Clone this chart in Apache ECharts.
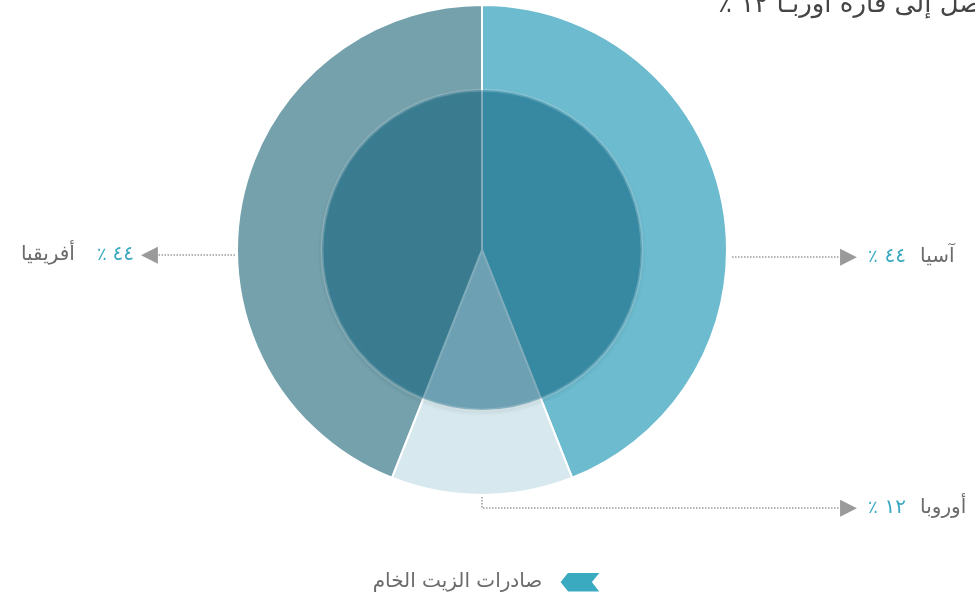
<!DOCTYPE html>
<html>
<head>
<meta charset="utf-8">
<script src="https://cdn.jsdelivr.net/npm/echarts@6/dist/echarts.min.js"></script>
<style>
  html,body{margin:0;padding:0;background:#fff;}
  #main{width:975px;height:592px;}
</style>
</head>
<body>
<div id="main"></div>
<script>
// صادرات الزيت الخام حسب القارة
var regions = ['آسيا', 'أوروبا', 'أفريقيا'];
var shares = [44, 12, 44];
var shareLabels = ['٤٤', '١٢', '٤٤'];
var sliceColors = ['#6dbbcf', '#d7e9ee', '#74a1ac'];
var seriesName = 'صادرات الزيت الخام';
var titleText = 'نسبة الصادرات التي تصل إلى قارة أوربـا ١٢ ٪';

var CX = 482, CY = 250, R = 245, R_IN = 160;
var GRAY = '#6b6b6b', TEAL = '#3aa8c1', LINE = '#9a9a9a';

var chart = echarts.init(document.getElementById('main'), null, {renderer: 'canvas'});

var pieData = [];
for (var i = 0; i < regions.length; i++) {
  pieData.push({
    name: regions[i],
    value: shares[i],
    itemStyle: {color: sliceColors[i]}
  });
}

function labelFormatter(p) {
  var num = shareLabels[p.dataIndex];
  if (p.dataIndex === 2) {
    return '{nameL|' + p.name + '}{pctL|٪}{numL|' + num + '}{arl|◀}';
  }
  return '{arr|▶}{pct|٪}{num|' + num + '}{name|' + p.name + '}';
}

// مواقع التسميات والخطوط المنقطة
function labelLayout(p) {
  var y = CY + 7;
  if (p.dataIndex === 0) {
    return {
      x: CX + R + 113, y: y, align: 'left', verticalAlign: 'middle',
      labelLinePoints: [[CX + R + 5, y], [CX + R + 60, y], [CX + R + 113, y]]
    };
  }
  if (p.dataIndex === 2) {
    return {
      x: CX - R - 79, y: y - 2, align: 'right', verticalAlign: 'middle',
      labelLinePoints: [[CX - R - 2, y - 2], [CX - R - 40, y - 2], [CX - R - 79, y - 2]]
    };
  }
  var yb = CY + R + 13;
  return {
    x: CX + R + 113, y: yb, align: 'left', verticalAlign: 'middle',
    labelLinePoints: [[CX, CY + R + 2], [CX, yb], [CX + R + 113, yb]]
  };
}

var option = {
  animation: false,
  textStyle: {fontFamily: 'DejaVu Sans'},
  title: {
    text: '\u202B' + titleText + '\u202C',
    left: 718,
    top: -8,
    padding: 0,
    textStyle: {fontSize: 26, fontWeight: 'normal', color: '#454545', fontFamily: 'DejaVu Sans'}
  },
  legend: {
    data: [{name: seriesName, itemStyle: {color: '#3aaac0'}}],
    left: 'center',
    top: 566,
    align: 'right',
    icon: 'path://M0,10 L8,0 L41,0 L33,10 L41,20 L8,20 Z',
    itemWidth: 42,
    itemHeight: 21,
    textStyle: {fontSize: 20, color: GRAY, fontFamily: 'DejaVu Sans', padding: [0, 12, 0, 0]}
  },
  series: [
    {
      name: seriesName,
      type: 'pie',
      center: [CX, CY],
      radius: [0, R],
      startAngle: 90,
      clockwise: true,
      avoidLabelOverlap: false,
      itemStyle: {borderColor: '#fff', borderWidth: 2},
      emphasis: {disabled: true},
      label: {
        show: true,
        position: 'outside',
        formatter: labelFormatter,
        rich: {
          arr: {fontSize: 22, color: LINE, padding: [0, 11, 0, 0], fontFamily: 'DejaVu Sans'},
          pct: {fontSize: 18, color: TEAL, padding: [0, 7, 0, 0], fontFamily: 'DejaVu Sans'},
          num: {fontSize: 20, color: TEAL, padding: [0, 14, 0, 0], fontFamily: 'DejaVu Sans'},
          name: {fontSize: 20, color: GRAY, fontFamily: 'DejaVu Sans'},
          nameL: {fontSize: 20, color: GRAY, padding: [0, 22, 0, 0], fontFamily: 'DejaVu Sans'},
          pctL: {fontSize: 18, color: TEAL, padding: [0, 6, 0, 0], fontFamily: 'DejaVu Sans'},
          numL: {fontSize: 20, color: TEAL, fontFamily: 'DejaVu Sans'},
          arl: {fontSize: 22, color: LINE, padding: [0, 0, 0, 7], fontFamily: 'DejaVu Sans'}
        }
      },
      labelLine: {
        show: true,
        lineStyle: {color: LINE, type: 'dotted', width: 1.5}
      },
      labelLayout: labelLayout,
      data: pieData
    },
    {
      // الدائرة الداخلية الشفافة
      name: seriesName,
      type: 'pie',
      center: [CX, CY],
      radius: [0, R_IN],
      silent: true,
      z: 3,
      label: {show: false},
      labelLine: {show: false},
      itemStyle: {
        color: 'rgba(0,95,128,0.45)',
        borderColor: 'rgba(255,255,255,0.18)',
        borderWidth: 3,
        shadowBlur: 5,
        shadowOffsetY: 2,
        shadowColor: 'rgba(0,0,0,0.18)'
      },
      data: [{name: seriesName, value: 100}]
    }
  ]
};

chart.setOption(option);
</script>
</body>
</html>
